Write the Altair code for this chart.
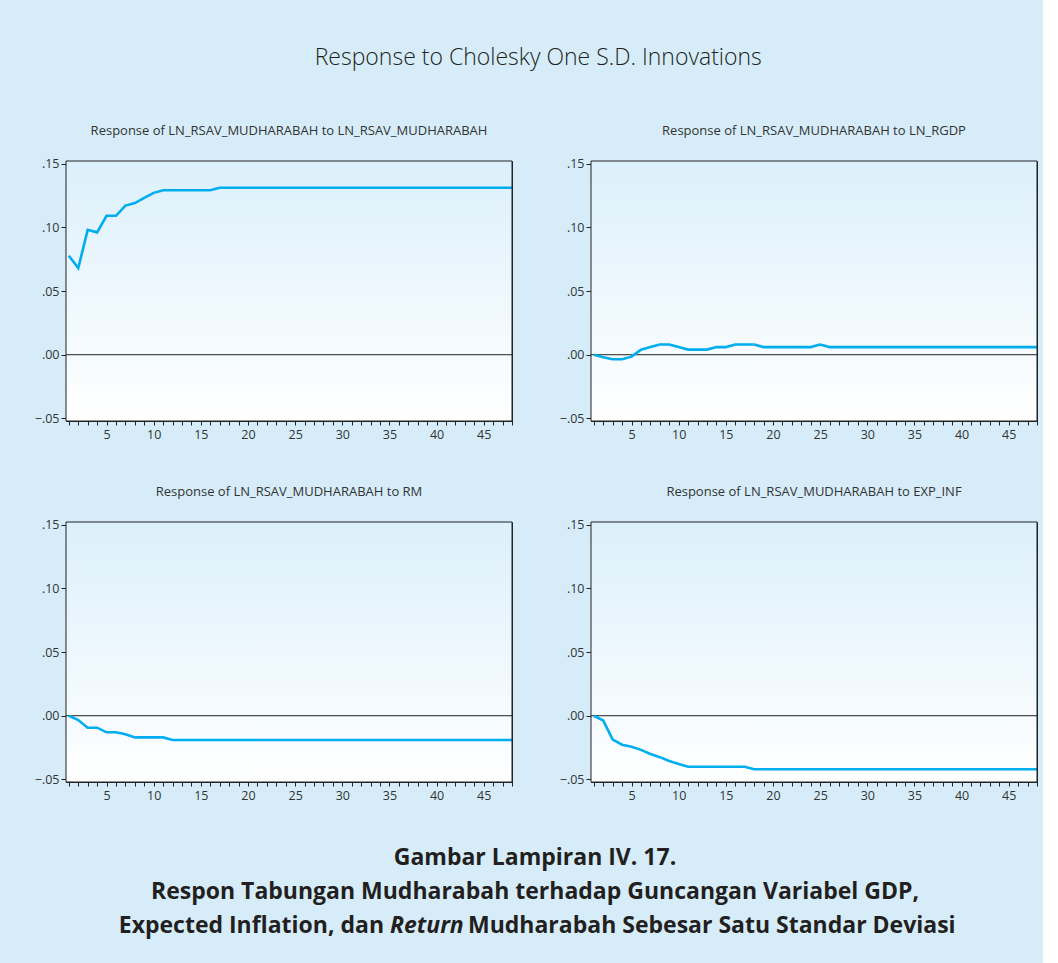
import altair as alt
import pandas as pd

periods = list(range(1, 49))

resp_own = [0.0776, 0.068, 0.098, 0.096, 0.109, 0.109, 0.117, 0.119, 0.123, 0.127,
            0.129, 0.129, 0.129, 0.129, 0.129, 0.129, 0.131, 0.131, 0.131, 0.131,
            0.131, 0.131, 0.131, 0.131, 0.131, 0.131, 0.131, 0.131, 0.131, 0.131,
            0.131, 0.131, 0.131, 0.131, 0.131, 0.131, 0.131, 0.131, 0.131, 0.131,
            0.131, 0.131, 0.131, 0.131, 0.131, 0.131, 0.131, 0.131]

resp_rgdp = [0.0, -0.002, -0.0036, -0.0036, -0.0015, 0.004, 0.006, 0.008, 0.008, 0.006,
             0.004, 0.004, 0.004, 0.006, 0.006, 0.008, 0.008, 0.008, 0.006, 0.006,
             0.006, 0.006, 0.006, 0.006, 0.008, 0.006, 0.006, 0.006, 0.006, 0.006,
             0.006, 0.006, 0.006, 0.006, 0.006, 0.006, 0.006, 0.006, 0.006, 0.006,
             0.006, 0.006, 0.006, 0.006, 0.006, 0.006, 0.006, 0.006]

resp_rm = [0.0, -0.0034, -0.0094, -0.0094, -0.013, -0.013, -0.0146, -0.017, -0.017, -0.017,
           -0.017, -0.019, -0.019, -0.019, -0.019, -0.019, -0.019, -0.019, -0.019, -0.019,
           -0.019, -0.019, -0.019, -0.019, -0.019, -0.019, -0.019, -0.019, -0.019, -0.019,
           -0.019, -0.019, -0.019, -0.019, -0.019, -0.019, -0.019, -0.019, -0.019, -0.019,
           -0.019, -0.019, -0.019, -0.019, -0.019, -0.019, -0.019, -0.019]

resp_inf = [0.0, -0.0038, -0.0187, -0.0227, -0.0243, -0.0268, -0.030, -0.0325, -0.0355, -0.0378,
            -0.040, -0.040, -0.040, -0.040, -0.040, -0.040, -0.040, -0.042, -0.042, -0.042,
            -0.042, -0.042, -0.042, -0.042, -0.042, -0.042, -0.042, -0.042, -0.042, -0.042,
            -0.042, -0.042, -0.042, -0.042, -0.042, -0.042, -0.042, -0.042, -0.042, -0.042,
            -0.042, -0.042, -0.042, -0.042, -0.042, -0.042, -0.042, -0.042]

panel_titles = [
    "Response of LN_RSAV_MUDHARABAH to LN_RSAV_MUDHARABAH",
    "Response of LN_RSAV_MUDHARABAH to LN_RGDP",
    "Response of LN_RSAV_MUDHARABAH to RM",
    "Response of LN_RSAV_MUDHARABAH to EXP_INF",
]
y_ticks = [-0.05, 0.0, 0.05, 0.10, 0.15]
main_title = "Response to Cholesky One S.D. Innovations"
caption_line1 = "Gambar Lampiran IV. 17."
caption_line2 = "Respon Tabungan Mudharabah terhadap Guncangan Variabel GDP,"
caption_line3a = "Expected Inflation, dan"
caption_line3b = "Return"
caption_line3c = "Mudharabah Sebesar Satu Standar Deviasi"

FONT = "Open Sans"
BG = "#d6edf9"
LINE = "#00aeef"
DARK = "#222222"
PW, PH = 446, 260

gradient = alt.LinearGradient(
    gradient="linear",
    stops=[alt.GradientStop(color="#dcf0fb", offset=0),
           alt.GradientStop(color="#ffffff", offset=1)],
    x1=0, x2=0, y1=0, y2=1,
)


def panel(values, title):
    df = pd.DataFrame({"period": periods, "response": values})
    xs = alt.Scale(domain=[0.7, 48], nice=False, zero=False)
    ys = alt.Scale(domain=[-0.052, 0.152], nice=False, zero=False)
    one = pd.DataFrame({"k": [0]})
    bg = alt.Chart(one).mark_rect(fill=gradient, strokeWidth=0).encode(
        x=alt.value(0), x2=alt.value("width"), y=alt.value(0), y2=alt.value("height")
    )
    frame = alt.Chart(one).mark_rect(filled=False, stroke=DARK, strokeWidth=1).encode(
        x=alt.value(0), x2=alt.value("width"), y=alt.value(0), y2=alt.value("height")
    )
    zero = alt.Chart(pd.DataFrame({"zero": [0.0]})).mark_rule(color=DARK, strokeWidth=1).encode(
        y=alt.Y("zero:Q", scale=ys)
    )
    line = alt.Chart(df).mark_line(color=LINE, strokeWidth=2.6).encode(
        x=alt.X("period:Q", scale=xs,
                axis=alt.Axis(values=periods, title=None, grid=False, tickSize=4,
                              labelExpr="datum.value % 5 === 0 ? datum.value : ''",
                              labelPadding=3)),
        y=alt.Y("response:Q", scale=ys,
                axis=alt.Axis(values=y_ticks, title=None, grid=False, tickSize=5,
                              labelExpr="replace(format(datum.value, '.2f'), '0.', '.')",
                              labelPadding=2)),
    )
    return alt.layer(bg, zero, line, frame).properties(
        width=PW, height=PH,
        title=alt.TitleParams(title, fontSize=13, font=FONT, fontWeight="normal",
                              color="#333333", offset=20, anchor="middle"),
    )


row1 = alt.hconcat(panel(resp_own, panel_titles[0]), panel(resp_rgdp, panel_titles[1]), spacing=40)
row2 = alt.hconcat(panel(resp_rm, panel_titles[2]), panel(resp_inf, panel_titles[3]), spacing=40)

cap_df = pd.DataFrame({"t": [0]})
CX = 469
cap_style = dict(font=FONT, fontSize=23, fontWeight="bold", color="#231f20", baseline="middle")
cap1 = alt.Chart(cap_df).mark_text(text=caption_line1, align="center", **cap_style).encode(
    x=alt.value(CX), y=alt.value(12))
cap2 = alt.Chart(cap_df).mark_text(text=caption_line2, align="center", **cap_style).encode(
    x=alt.value(CX), y=alt.value(46))
cap3a = alt.Chart(cap_df).mark_text(text=caption_line3a, align="right", **cap_style).encode(
    x=alt.value(318), y=alt.value(80))
cap3b = alt.Chart(cap_df).mark_text(text=caption_line3b, align="left", fontStyle="italic", **cap_style).encode(
    x=alt.value(324), y=alt.value(80))
cap3c = alt.Chart(cap_df).mark_text(text=caption_line3c, align="left", **cap_style).encode(
    x=alt.value(402), y=alt.value(80))
caption = alt.layer(cap1, cap2, cap3a, cap3b, cap3c).properties(
    width=950, height=110, view=alt.ViewBackground(stroke="transparent", strokeWidth=0))

chart = alt.vconcat(row1, row2, caption, spacing=44).properties(
    title=alt.TitleParams(main_title, fontSize=23, font=FONT, fontWeight=300,
                          color="#231f20", anchor="middle", offset=54),
    padding={"left": 33, "top": 47, "right": 0, "bottom": 30},
    background=BG,
).configure_view(
    stroke=DARK, strokeWidth=1
).configure_axis(
    domainColor=DARK, tickColor=DARK, labelColor="#333333", labelFont=FONT, labelFontSize=12.5,
    domainWidth=1, tickWidth=1,
).configure_concat(spacing=44)

chart.save("out.html", embed_options={"renderer": "svg", "actions": False})
